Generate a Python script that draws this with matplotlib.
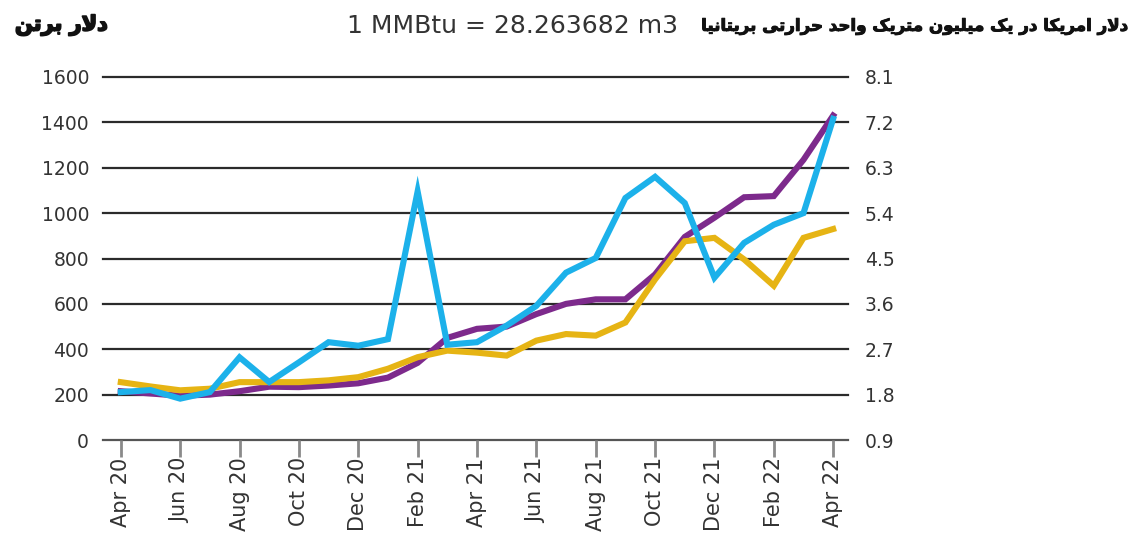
import matplotlib
matplotlib.use("Agg")
import matplotlib.pyplot as plt
import matplotlib.patheffects as pe

# ---------------- data ----------------
months = ["Apr 20", "May 20", "Jun 20", "Jul 20", "Aug 20", "Sep 20", "Oct 20", "Nov 20",
          "Dec 20", "Jan 21", "Feb 21", "Mar 21", "Apr 21", "May 21", "Jun 21", "Jul 21",
          "Aug 21", "Sep 21", "Oct 21", "Nov 21", "Dec 21", "Jan 22", "Feb 22", "Mar 22", "Apr 22"]
tick_labels = months[::2]

# $/ton (left axis)
purple = [215, 205, 195, 200, 215, 235, 233, 240, 250, 275, 340, 450, 490, 500, 555, 600, 620,
          620, 730, 895, 980, 1070, 1075, 1235, 1430]
yellow = [255, 236, 219, 226, 255, 255, 255, 263, 277, 314, 365, 394, 385, 372, 438, 467, 460,
          518, 708, 876, 891, 796, 680, 891, 930]
# $/MMBtu (right axis)
cyan = [1.85, 1.89, 1.72, 1.85, 2.54, 2.05, 2.44, 2.84, 2.77, 2.90, 5.83, 2.79, 2.84, 3.17,
        3.56, 4.22, 4.51, 5.70, 6.12, 5.60, 4.12, 4.81, 5.17, 5.40, 7.27]

left_ticks = [0, 200, 400, 600, 800, 1000, 1200, 1400, 1600]
right_ticks = [0.9, 1.8, 2.7, 3.6, 4.5, 5.4, 6.3, 7.2, 8.1]

title_left = "دلار برتن"
title_mid = "1 MMBtu = 28.263682 m3"
title_right = "دلار امریکا در یک میلیون متریک واحد حرارتی بریتانیا"

# ---------- minimal Persian shaping (matplotlib has no RTL shaping) ----------
FORMS = {  # isolated, final, initial, medial
    'ا': ('\uFE8D', '\uFE8E', None, None),
    'ب': ('\uFE8F', '\uFE90', '\uFE91', '\uFE92'),
    'ت': ('\uFE95', '\uFE96', '\uFE97', '\uFE98'),
    'ح': ('\uFEA1', '\uFEA2', '\uFEA3', '\uFEA4'),
    'د': ('\uFEA9', '\uFEAA', None, None),
    'ر': ('\uFEAD', '\uFEAE', None, None),
    'ل': ('\uFEDD', '\uFEDE', '\uFEDF', '\uFEE0'),
    'م': ('\uFEE1', '\uFEE2', '\uFEE3', '\uFEE4'),
    'ن': ('\uFEE5', '\uFEE6', '\uFEE7', '\uFEE8'),
    'و': ('\uFEED', '\uFEEE', None, None),
    'ی': ('\uFBFC', '\uFBFD', '\uFBFE', '\uFBFF'),
    'ک': ('\uFB8E', '\uFB8F', '\uFB90', '\uFB91'),
}


def shape_fa(text):
    units = []
    i = 0
    while i < len(text):
        if text[i] == 'ل' and i + 1 < len(text) and text[i + 1] == 'ا':
            units.append('LA')
            i += 2
        else:
            units.append(text[i])
            i += 1
    out = []
    for k, u in enumerate(units):
        prev = units[k - 1] if k > 0 else None
        nxt = units[k + 1] if k + 1 < len(units) else None
        joins_prev = prev in FORMS and FORMS[prev][2] is not None
        if u == 'LA':
            out.append('\uFEFC' if joins_prev else '\uFEFB')
            continue
        if u not in FORMS:
            out.append(u)
            continue
        f = FORMS[u]
        joins_next = f[2] is not None and (nxt in FORMS or nxt == 'LA')
        if joins_prev and joins_next:
            out.append(f[3])
        elif joins_prev:
            out.append(f[1])
        elif joins_next:
            out.append(f[2])
        else:
            out.append(f[0])
    return ''.join(reversed(out))


# ---------------- figure ----------------
W, H = 1133, 538
fig = plt.figure(figsize=(W / 100, H / 100), dpi=100)
ax = fig.add_axes([103 / W, 1 - 440 / H, (848 - 103) / W, (440 - 77) / H])
ax2 = ax.twinx()

x = list(range(len(months)))
lw = 4.4
ax.plot(x, purple, color="#7D2A8C", lw=lw, solid_joinstyle="miter", zorder=3, clip_on=False)
ax.plot(x, yellow, color="#E6B414", lw=lw, solid_joinstyle="miter", zorder=3, clip_on=False)
ax2.plot(x, cyan, color="#1CB1EA", lw=lw, solid_joinstyle="miter", zorder=4, clip_on=False)

ax.set_ylim(0, 1600)
ax2.set_ylim(0.9, 8.1)
ax.set_xlim(-0.6, 24.5)

ax.set_yticks(left_ticks)
ax.set_yticklabels([str(v) for v in left_ticks])
ax2.set_yticks(right_ticks)
ax2.set_yticklabels([f"{v:.1f}" for v in right_ticks])

for v in left_ticks:
    ax.axhline(v, color="#555555" if v == 0 else "#2b2b2b", lw=1.6, zorder=1, clip_on=False)

ax.set_xticks(x[::2])
ax.set_xticklabels(tick_labels, rotation=90)

fam = ["DejaVu Sans"]
for a in (ax, ax2):
    for s in a.spines.values():
        s.set_visible(False)
ax.tick_params(axis="y", length=0, pad=10, labelsize=13.5, labelcolor="#333333")
ax2.tick_params(axis="y", length=0, pad=12, labelsize=13.5, labelcolor="#333333")
ax.tick_params(axis="x", length=12, width=2, color="#8a8a8a", pad=0.5, labelsize=15,
               labelcolor="#333333", direction="out")
for lab in ax.get_xticklabels() + ax.get_yticklabels() + ax2.get_yticklabels():
    lab.set_family(fam)

fig.text(15 / W, 1 - 25 / H, shape_fa(title_left), fontsize=15, fontweight="bold",
         family=["DejaVu Sans"], ha="left", va="center", color="#111111",
         path_effects=[pe.withStroke(linewidth=1.3, foreground="#111111")])
fig.text(347 / W, 1 - 26 / H, title_mid, fontsize=18, family=fam, ha="left", va="center",
         color="#333333")
fig.text(1128 / W, 1 - 26 / H, shape_fa(title_right), fontsize=12, fontweight="bold",
         family=["DejaVu Sans"], ha="right", va="center", color="#111111",
         path_effects=[pe.withStroke(linewidth=0.7, foreground="#111111")])

fig.savefig("out.png", dpi=100)
